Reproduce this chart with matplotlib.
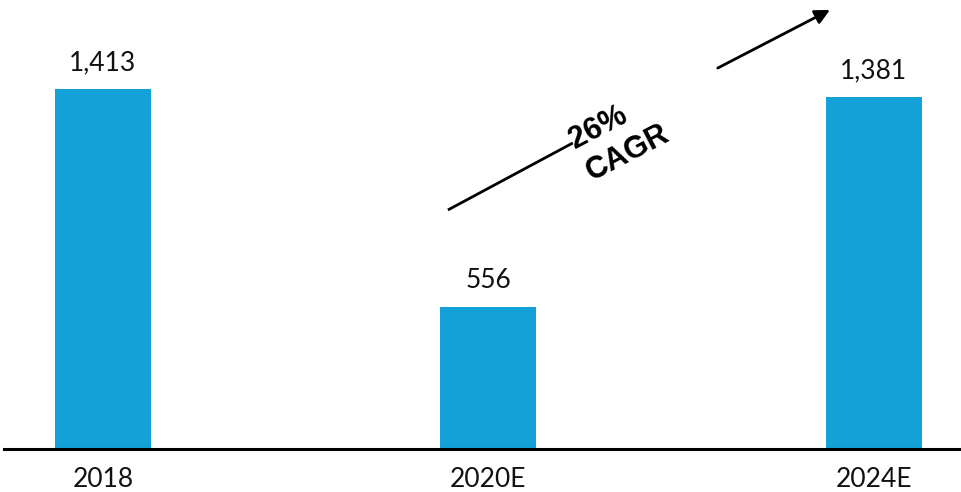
import matplotlib
matplotlib.use("Agg")
import matplotlib.pyplot as plt

# ---------------------------------------------------------
# Data
# ---------------------------------------------------------
years = ["2018", "2020E", "2024E"]
values = [1413, 556, 1381]
value_labels = ["1,413", "556", "1,381"]
cagr_text = ["26%", "CAGR"]

bar_color = "#14A1D7"

plt.rcParams["font.family"] = ["Lato", "DejaVu Sans"]

fig = plt.figure(figsize=(9.61, 4.92), dpi=100)
ax = fig.add_axes([0, 43 / 492, 1, 449 / 492])

x = range(len(years))
ax.bar(x, values, width=0.249, color=bar_color, zorder=2)

for xi, v, lab in zip(x, values, value_labels):
    ax.annotate(lab, (xi, v), xytext=(0, 10), textcoords="offset points",
                ha="center", va="bottom", fontsize=19, color="#111111")

ax.set_xlim(-0.267, 2.226)
ax.set_ylim(0, 1762)

# baseline
ax.axhline(0, xmin=4 / 961, xmax=1, color="black", lw=2.2, zorder=3, clip_on=False)

for s in ax.spines.values():
    s.set_visible(False)
ax.set_yticks([])
ax.set_xticks(list(x))
ax.set_xticklabels(years, fontsize=19, color="#111111")
ax.tick_params(axis="x", length=0, pad=13)

# growth arrow, broken around the CAGR label
ax.plot([0.895, 1.219], [938, 1201], color="black", lw=2, solid_capstyle="butt")
ax.annotate("", xy=(1.886, 1723), xytext=(1.595, 1495),
            arrowprops=dict(arrowstyle="-|>", color="black", lw=2,
                            mutation_scale=22, shrinkA=0, shrinkB=0))

ax.text(1.284, 1262, cagr_text[0], rotation=27.6, rotation_mode="anchor",
        ha="center", va="center", fontsize=22, fontweight="bold",
        family=["Liberation Sans", "DejaVu Sans"])
ax.text(1.362, 1160, cagr_text[1], rotation=27.6, rotation_mode="anchor",
        ha="center", va="center", fontsize=22, fontweight="bold",
        family=["Liberation Sans", "DejaVu Sans"])

fig.savefig("out.png", dpi=100)
